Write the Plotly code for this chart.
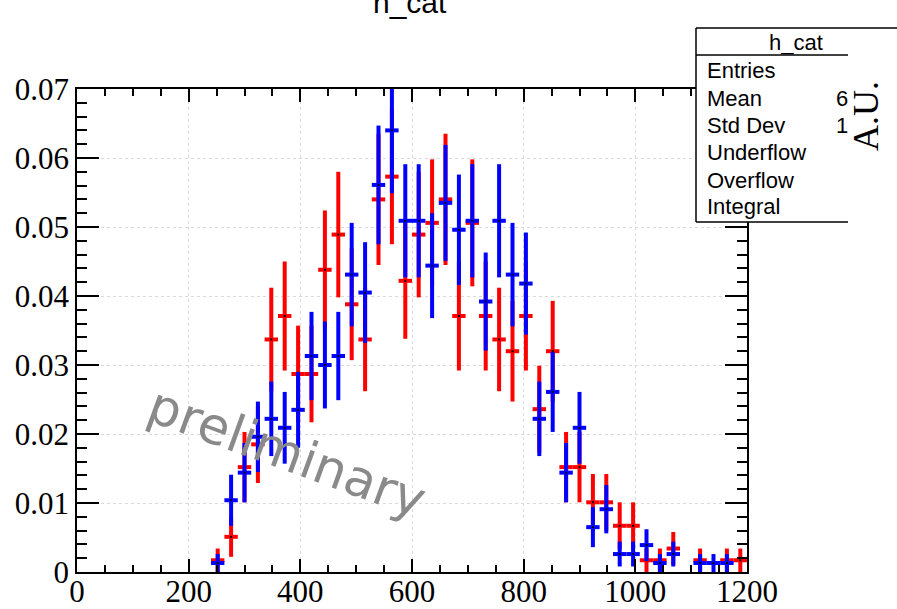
import plotly.graph_objects as go

# Histogram binning: 50 bins of width 24 over [0, 1200]
bin_width = 24
bin_centers = [12 + bin_width * k for k in range(10, 50)]

# Normalised bin contents (bins 10..49) and their errors
red_values = [0.0017, 0.0051, 0.0152, 0.0185, 0.0337, 0.0371, 0.0287, 0.0287, 0.0438, 0.0489,
              0.0388, 0.0337, 0.0540, 0.0573, 0.0422, 0.0489, 0.0506, 0.0540, 0.0371, 0.0506,
              0.0371, 0.0337, 0.0320, 0.0371, 0.0236, 0.0320, 0.0152, 0.0152, 0.0101, 0.0101,
              0.0067, 0.0067, 0.0017, 0.0017, 0.0034, 0.0, 0.0017, 0.0, 0.0017, 0.0017]
red_errors = [0.0017, 0.0029, 0.0051, 0.0056, 0.0075, 0.0079, 0.0070, 0.0070, 0.0086, 0.0091,
              0.0081, 0.0075, 0.0095, 0.0098, 0.0084, 0.0091, 0.0092, 0.0095, 0.0079, 0.0092,
              0.0079, 0.0075, 0.0073, 0.0079, 0.0063, 0.0073, 0.0051, 0.0051, 0.0041, 0.0041,
              0.0034, 0.0034, 0.0017, 0.0017, 0.0024, 0.0, 0.0017, 0.0, 0.0017, 0.0017]

blue_values = [0.0013, 0.0104, 0.0144, 0.0196, 0.0222, 0.0209, 0.0235, 0.0313, 0.0300, 0.0313,
               0.0431, 0.0405, 0.0561, 0.0640, 0.0509, 0.0509, 0.0444, 0.0535, 0.0496, 0.0509,
               0.0392, 0.0509, 0.0431, 0.0418, 0.0222, 0.0261, 0.0144, 0.0209, 0.0065, 0.0091,
               0.0026, 0.0026, 0.0039, 0.0013, 0.0026, 0.0, 0.0013, 0.0013, 0.0013, 0.0]
blue_errors = [0.0013, 0.0037, 0.0043, 0.0051, 0.0054, 0.0052, 0.0055, 0.0064, 0.0063, 0.0064,
               0.0075, 0.0073, 0.0086, 0.0091, 0.0082, 0.0082, 0.0076, 0.0084, 0.0080, 0.0082,
               0.0071, 0.0082, 0.0075, 0.0074, 0.0054, 0.0058, 0.0043, 0.0052, 0.0029, 0.0035,
               0.0018, 0.0018, 0.0023, 0.0013, 0.0018, 0.0, 0.0013, 0.0013, 0.0013, 0.0]

x_ticks = [0, 200, 400, 600, 800, 1000, 1200]
y_ticks = [0, 0.01, 0.02, 0.03, 0.04, 0.05, 0.06, 0.07]
y_tick_text = ["0", "0.01", "0.02", "0.03", "0.04", "0.05", "0.06", "0.07"]

stats_title = "h_cat"
stats_rows = ["Entries", "Mean", "Std Dev", "Underflow", "Overflow", "Integral"]

W, H = 897, 609
ML, MR, MT, MB = 77, 150, 89, 37
PW, PH = W - ML - MR, H - MT - MB


def px_x(px):
    return (px - ML) / PW


def px_y(py):
    return (H - MB - py) / PH


def hist_trace(values, errors, color):
    ys = [v if v > 0 else None for v in values]
    return go.Scatter(
        x=bin_centers, y=ys, mode="markers",
        marker=dict(size=2, color="black", symbol="square"),
        error_y=dict(type="data", array=errors, thickness=4, width=0, color=color),
        error_x=dict(type="constant", value=bin_width / 2, thickness=4, width=0, color=color),
        showlegend=False, hoverinfo="x+y",
    )


fig = go.Figure()
fig.add_trace(hist_trace(red_values, red_errors, "#ff0000"))
fig.add_trace(hist_trace(blue_values, blue_errors, "#0000ff"))

tick_font = dict(family="Liberation Serif, Times New Roman, serif", size=31, color="black")
common_axis = dict(
    showline=True, linecolor="black", linewidth=1.5, mirror="allticks",
    ticks="inside", tickcolor="black", tickwidth=1.5,
    showgrid=True, gridcolor="#dadada", griddash="dot", gridwidth=1,
    zeroline=False, tickfont=tick_font, automargin=False,
)

fig.update_xaxes(range=[0, 1200], tickvals=x_ticks, ticklen=13, ticklabelstandoff=-9,
                 minor=dict(dtick=50, ticks="inside", ticklen=7, tickcolor="black", tickwidth=1.5, showgrid=False),
                 **common_axis)
fig.update_yaxes(range=[0, 0.07], tickvals=y_ticks, ticktext=y_tick_text, ticklen=22,
                 minor=dict(dtick=0.002, ticks="inside", ticklen=10, tickcolor="black", tickwidth=1.5, showgrid=False),
                 **common_axis)

shapes = []
# statistics box: white body covering the frame, plus its border lines
shapes.append(dict(type="rect", xref="paper", yref="paper", layer="above",
                   x0=px_x(696), x1=px_x(W + 5), y0=px_y(222), y1=px_y(28),
                   fillcolor="white", line=dict(width=0)))
line_style = dict(color="black", width=1.5)
for (x0, y0, x1, y1) in [(696, 28, W + 5, 28), (696, 28, 696, 222),
                         (696, 55, 848, 55), (696, 222, 848, 222)]:
    shapes.append(dict(type="line", xref="paper", yref="paper", layer="above",
                       x0=px_x(x0), x1=px_x(x1), y0=px_y(y0), y1=px_y(y1), line=line_style))

sans = "Liberation Sans, Arial, Helvetica, sans-serif"
annotations = []
# histogram title, running off the top edge of the canvas
annotations.append(dict(text="h_cat", xref="paper", yref="paper", x=px_x(410), y=px_y(2),
                        xanchor="center", yanchor="middle", showarrow=False,
                        font=dict(family=sans, size=30, color="black")))
annotations.append(dict(text=stats_title, xref="paper", yref="paper", x=px_x(796), y=px_y(42),
                        xanchor="center", yanchor="middle", showarrow=False,
                        font=dict(family=sans, size=22, color="black")))
row_y = [70, 98, 125.5, 153, 180.5, 206]
for label, yy in zip(stats_rows, row_y):
    annotations.append(dict(text=label, xref="paper", yref="paper", x=px_x(705), y=px_y(yy),
                            xanchor="left", yanchor="middle", showarrow=False,
                            font=dict(family=sans, size=22, color="black")))
for val, yy in [("6", 98), ("1", 125.5)]:
    annotations.append(dict(text=val, xref="paper", yref="paper", x=px_x(834), y=px_y(yy),
                            xanchor="left", yanchor="middle", showarrow=False,
                            font=dict(family=sans, size=22, color="black")))
# y-axis title
annotations.append(dict(text="A.U.", xref="paper", yref="paper", x=px_x(866), y=px_y(116),
                        xanchor="center", yanchor="middle", showarrow=False, textangle=-90,
                        font=dict(family="Liberation Serif, Times New Roman, serif", size=36, color="black")))
# watermark
annotations.append(dict(text="preliminary", xref="paper", yref="paper", x=px_x(287), y=px_y(452),
                        xanchor="center", yanchor="middle", showarrow=False, textangle=20,
                        font=dict(family="DejaVu Sans, sans-serif", size=51, color="#8a8a8a")))

fig.update_layout(
    width=W, height=H,
    margin=dict(l=ML, r=MR, t=MT, b=MB, pad=0, autoexpand=False),
    paper_bgcolor="white", plot_bgcolor="white",
    shapes=shapes, annotations=annotations,
    showlegend=False,
)

fig.write_html("out.html")
